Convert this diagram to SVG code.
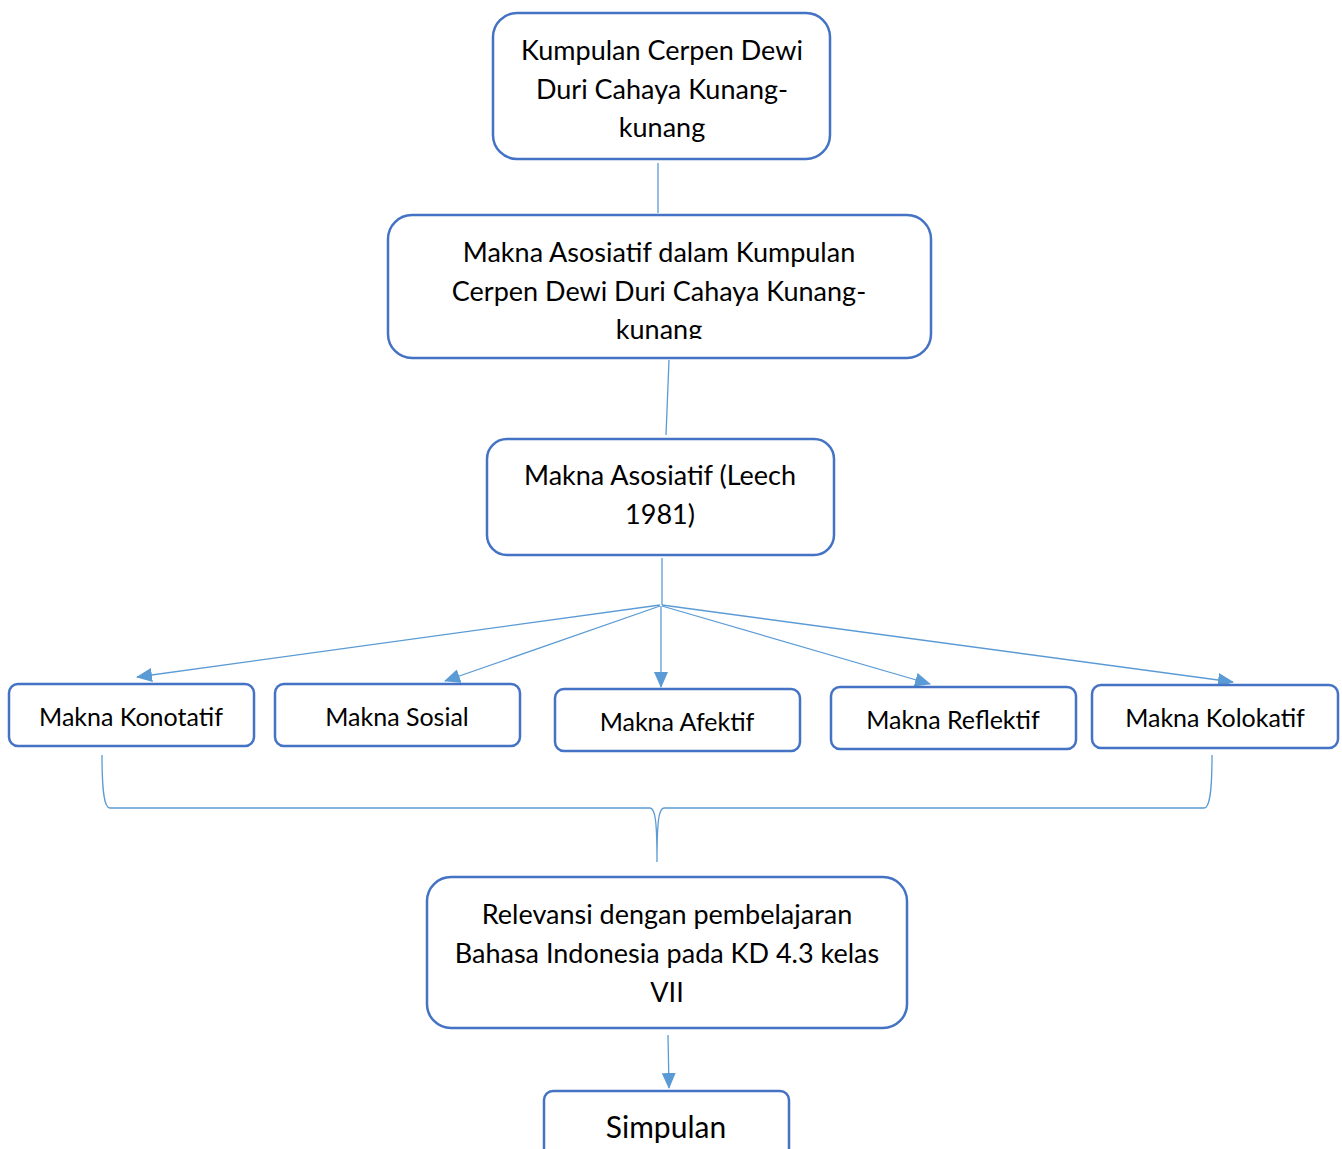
<svg xmlns="http://www.w3.org/2000/svg" width="1342" height="1149" viewBox="0 0 1342 1149">
<style>
.box{fill:#fff;stroke:#4472C4;stroke-width:2.5}
.t{font-family:Lato,"Open Sans",sans-serif;font-size:27px;fill:#000;text-anchor:middle;dominant-baseline:central}
.s{font-size:25px}
.c{fill:none;stroke:#5B9BD5;stroke-width:1.3}
</style>
<defs>
<marker id="ah" markerWidth="16" markerHeight="14" refX="15" refY="7" orient="auto" markerUnits="userSpaceOnUse">
<path d="M0,0 L16,7 L0,14 Z" fill="#5B9BD5"/>
</marker>
<clipPath id="clip2"><rect x="388" y="215" width="543" height="124"/></clipPath>
</defs>
<rect width="1342" height="1149" fill="#fff"/>
<g id="connectors">
<line class="c" x1="658" y1="163" x2="658" y2="213"/>
<line class="c" x1="669" y1="360" x2="666" y2="435"/>
<line class="c" x1="662" y1="558" x2="662" y2="605"/>
<line class="c" x1="660" y1="605" x2="137" y2="677" marker-end="url(#ah)"/>
<line class="c" x1="660" y1="606" x2="445" y2="681" marker-end="url(#ah)"/>
<line class="c" x1="661" y1="606" x2="661" y2="687" marker-end="url(#ah)"/>
<line class="c" x1="662" y1="606" x2="930" y2="684" marker-end="url(#ah)"/>
<line class="c" x1="662" y1="605" x2="1233" y2="682" marker-end="url(#ah)"/>
<path class="c" d="M102,755 C102,790 104,808 110,808 L650,808 C655,808 657,820 657,862 C657,820 659,808 664,808 L1204,808 C1210,808 1212,790 1212,755"/>
<line class="c" x1="668" y1="1035" x2="669" y2="1088" marker-end="url(#ah)"/>
</g>
<g id="n1">
<rect class="box" x="493" y="13" width="337" height="146" rx="24"/>
<text class="t" x="662" y="49">Kumpulan Cerpen Dewi</text>
<text class="t" x="662" y="88">Duri Cahaya Kunang-</text>
<text class="t" x="662" y="126">kunang</text>
</g>
<g id="n2">
<rect class="box" x="388" y="215" width="543" height="143" rx="24"/>
<g clip-path="url(#clip2)">
<text class="t" x="659" y="251">Makna Asosiatif dalam Kumpulan</text>
<text class="t" x="659" y="290">Cerpen Dewi Duri Cahaya Kunang-</text>
<text class="t" x="659" y="328">kunang</text>
</g>
</g>
<g id="n3">
<rect class="box" x="487" y="439" width="347" height="116" rx="20"/>
<text class="t" x="660" y="474">Makna Asosiatif (Leech</text>
<text class="t" x="660" y="513">1981)</text>
</g>
<g id="n4">
<rect class="box" x="9" y="684" width="245" height="62" rx="9"/>
<text class="t s" x="131" y="716">Makna Konotatif</text>
</g>
<g id="n5">
<rect class="box" x="275" y="684" width="245" height="62" rx="9"/>
<text class="t s" x="397" y="716">Makna Sosial</text>
</g>
<g id="n6">
<rect class="box" x="555" y="689" width="245" height="62" rx="9"/>
<text class="t s" x="677" y="721">Makna Afektif</text>
</g>
<g id="n7">
<rect class="box" x="831" y="687" width="245" height="62" rx="9"/>
<text class="t s" x="953" y="719">Makna Reflektif</text>
</g>
<g id="n8">
<rect class="box" x="1092" y="685" width="246" height="63" rx="9"/>
<text class="t s" x="1215" y="717">Makna Kolokatif</text>
</g>
<g id="n9">
<rect class="box" x="427" y="877" width="480" height="151" rx="24"/>
<text class="t" x="667" y="913">Relevansi dengan pembelajaran</text>
<text class="t" x="667" y="952">Bahasa Indonesia pada KD 4.3 kelas</text>
<text class="t" x="667" y="991">VII</text>
</g>
<g id="n10">
<rect class="box" x="544" y="1091" width="245" height="80" rx="9"/>
<text class="t" x="666" y="1126" style="font-size:30px">Simpulan</text>
</g>
</svg>
